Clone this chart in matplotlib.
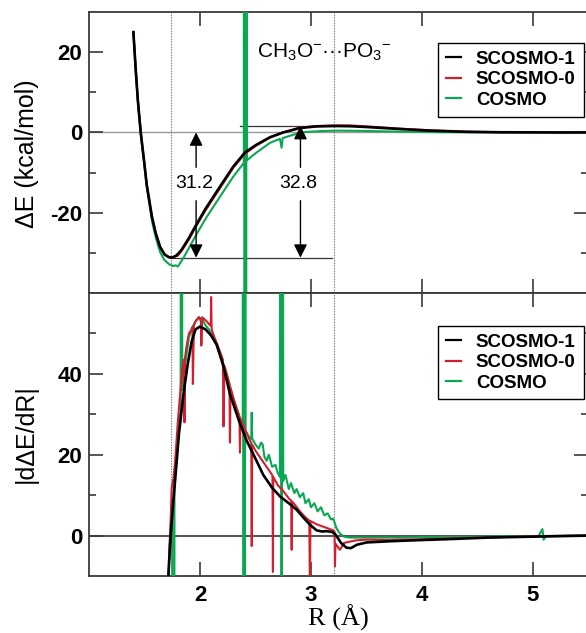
import matplotlib
matplotlib.use('Agg')
import matplotlib.pyplot as plt
from matplotlib.ticker import FixedLocator

# ---------------- data ----------------
series_labels = ['SCOSMO-1', 'SCOSMO-0', 'COSMO']

# Top panel: Delta E (kcal/mol) vs R (A)
energy_scosmo1 = [(1.40, 25), (1.42, 16), (1.44, 8), (1.466, 0), (1.50, -8), (1.52, -13),
                  (1.567, -21), (1.60, -25), (1.64, -28.5), (1.68, -30.4), (1.72, -31.1),
                  (1.75, -31.2), (1.79, -30.6), (1.835, -29.2), (1.90, -26.3), (1.97, -22.8),
                  (2.05, -19), (2.18, -13.5), (2.30, -8.5), (2.405, -5.0), (2.50, -3.2),
                  (2.63, -1.2), (2.75, 0.0), (2.90, 1.1), (3.05, 1.5), (3.20, 1.6), (3.35, 1.55),
                  (3.50, 1.35), (3.62, 1.15), (3.80, 0.85), (4.07, 0.45), (4.40, 0.15),
                  (4.70, 0.05), (5.20, 0), (5.50, 0)]
energy_scosmo0 = [(1.40, 25), (1.42, 16), (1.44, 8), (1.466, 0), (1.50, -8), (1.52, -13),
                  (1.567, -21), (1.60, -25), (1.64, -28.4), (1.68, -30.3), (1.72, -31.0),
                  (1.76, -31.1), (1.80, -30.7), (1.835, -29.5), (1.90, -26.7), (1.97, -23.2),
                  (2.05, -19.4), (2.18, -13.9), (2.30, -8.8), (2.405, -5.3), (2.50, -3.4),
                  (2.63, -1.3), (2.75, 0.0), (2.90, 1.2), (3.05, 1.6), (3.20, 1.75), (3.35, 1.75),
                  (3.50, 1.5), (3.62, 1.3), (3.80, 0.95), (4.07, 0.55), (4.40, 0.2),
                  (4.70, 0.05), (5.20, 0), (5.50, 0)]
energy_cosmo = [(1.40, 25), (1.42, 16), (1.44, 8), (1.466, -0.3), (1.50, -8.5), (1.52, -13.5),
                (1.567, -22), (1.60, -26), (1.64, -29.8), (1.68, -31.8), (1.72, -32.8),
                (1.76, -33.3), (1.78, -33.1), (1.80, -33.4), (1.82, -32.6), (1.86, -30.8),
                (1.90, -28.8), (1.97, -25.3), (2.05, -21.5), (2.18, -16), (2.30, -11),
                (2.395, -7.6), (2.398, 400), (2.400, -400), (2.416, -400), (2.418, 400),
                (2.42, -7.0), (2.50, -5.2), (2.63, -2.6), (2.72, -1.6), (2.735, -3.8),
                (2.745, -1.4), (2.85, -0.5), (2.95, 0.1), (3.10, 0.35), (3.25, 0.45),
                (3.40, 0.4), (3.60, 0.3), (3.80, 0.2), (4.10, 0.08), (4.50, 0.02), (5.50, 0)]

# Bottom panel: |d Delta E / dR| vs R (A)
deriv_scosmo1 = [(1.700, -16), (1.715, -10), (1.736, 0), (1.755, 7), (1.775, 13.4), (1.81, 25),
                 (1.85, 34.8), (1.89, 42.5), (1.925, 48), (1.96, 51), (2.00, 51.7), (2.05, 51),
                 (2.10, 49.5), (2.15, 47.2), (2.21, 42), (2.27, 35), (2.35, 28.5), (2.42, 23.5),
                 (2.50, 19), (2.57, 15), (2.65, 11.8), (2.72, 9.7), (2.80, 8), (2.87, 6.4),
                 (2.93, 4.5), (2.99, 2.7), (3.05, 1.3), (3.10, 1.0), (3.14, 1.1), (3.19, 0.9),
                 (3.22, 0.3), (3.27, -1.8), (3.32, -3.0), (3.36, -3.1), (3.41, -2.3),
                 (3.50, -1.7), (3.71, -1.4), (4.00, -1.1), (4.22, -0.9), (4.60, -0.5),
                 (5.12, -0.2), (5.50, 0)]
deriv_scosmo0 = [(1.712, -12), (1.725, -3), (1.735, 3), (1.745, 11.8), (1.76, 14), (1.775, 18),
                 (1.79, 24), (1.80, 28), (1.815, 33), (1.83, 38), (1.845, 42), (1.855, 43.5),
                 (1.86, 28), (1.865, 44), (1.88, 47), (1.90, 50), (1.925, 51), (1.932, 51.5),
                 (1.936, 37.5), (1.945, 52), (1.96, 53), (1.975, 53.5), (1.99, 54), (2.00, 53.5),
                 (2.008, 53), (2.012, 47), (2.02, 54), (2.04, 53.5), (2.06, 53), (2.09, 52),
                 (2.097, 52), (2.10, 59), (2.105, 51), (2.13, 49), (2.16, 47), (2.18, 45.5),
                 (2.20, 44), (2.206, 43.5), (2.212, 27), (2.22, 42), (2.25, 39), (2.265, 37.5),
                 (2.27, 23), (2.275, 36.5), (2.30, 34), (2.33, 31.5), (2.355, 29.5), (2.36, 20.5),
                 (2.365, 29), (2.40, 26.5), (2.45, 23.5), (2.462, 23), (2.466, -2.6), (2.47, 22.5),
                 (2.50, 21), (2.55, 19), (2.60, 17), (2.65, 15), (2.653, 14.8), (2.657, -9),
                 (2.66, 14.5), (2.70, 12.5), (2.75, 11), (2.80, 9.2), (2.822, 8.6), (2.826, -3.5),
                 (2.83, 8.4), (2.85, 7.8), (2.90, 6), (2.95, 4.5), (2.985, 3.7), (2.99, -14),
                 (2.995, 3.6), (3.05, 2.8), (3.10, 2.3), (3.15, 1.8), (3.20, 1.3), (3.212, 1.0),
                 (3.216, -7.6), (3.22, -2), (3.26, -3.5), (3.30, -1.8), (3.35, -1.5), (3.40, -1.2),
                 (3.50, -1.0), (3.70, -1.1), (4.00, -0.9), (4.50, -0.5), (5.00, -0.2), (5.50, 0)]
deriv_cosmo = [(1.72, -6), (1.735, 2), (1.75, 9), (1.757, -400), (1.761, -400), (1.77, 14),
               (1.79, 21), (1.81, 27), (1.826, 31), (1.829, 400), (1.834, 400), (1.84, 36),
               (1.86, 41), (1.88, 45), (1.90, 49), (1.93, 51.5), (1.96, 53), (1.99, 54),
               (2.02, 53.5), (2.05, 52), (2.08, 51), (2.12, 49), (2.16, 46.5), (2.20, 43.5),
               (2.25, 39), (2.30, 34), (2.33, 31.5), (2.37, 28), (2.385, 27.5), (2.388, 400),
               (2.390, -400), (2.405, -400), (2.407, 400), (2.41, 26), (2.44, 24.5), (2.462, 24),
               (2.466, 30.4), (2.47, 24), (2.50, 22.5), (2.53, 21.5), (2.55, 23), (2.565, 22.5),
               (2.58, 19.5), (2.60, 18.5), (2.62, 20), (2.65, 17), (2.68, 17.5), (2.70, 15.5),
               (2.72, 14.5), (2.732, 400), (2.735, -400), (2.738, 400), (2.75, 13.5), (2.77, 15),
               (2.80, 11.5), (2.82, 13), (2.85, 10.5), (2.87, 11.5), (2.90, 9.5), (2.93, 10.5),
               (2.95, 8), (2.98, 9), (3.00, 7), (3.03, 8), (3.06, 6), (3.09, 7), (3.12, 5),
               (3.15, 5.5), (3.18, 4), (3.20, 4.2), (3.23, 1.8), (3.26, 0.5), (3.30, -0.3),
               (3.35, -0.5), (3.45, -0.5), (3.60, -0.5), (3.80, -0.5), (4.00, -0.4), (4.50, -0.3),
               (5.05, -0.1), (5.085, 1.6), (5.095, -1.0), (5.12, -0.1), (5.50, 0)]

# reference geometry values (data units)
r_reference = [1.74, 3.21]          # dotted vertical lines
well_depth = -31.2                  # energy minimum
barrier_top = 1.6                   # barrier maximum
arrow_r = [1.965, 2.905]
arrow_labels = ['31.2', '32.8']
top_ticks_major = [-20, 0, 20]
top_ticks_minor = [-30, -10, 10]
bot_ticks_major = [0, 20, 40]
bot_ticks_minor = [10, 30, 50]
x_ticks = [2, 3, 4, 5]

# ---------------- style ----------------
plt.rcParams['font.family'] = ['Liberation Sans', 'DejaVu Sans']
plt.rcParams['axes.unicode_minus'] = False
plt.rcParams['mathtext.fontset'] = 'custom'
plt.rcParams['mathtext.rm'] = 'Liberation Sans'
plt.rcParams['mathtext.it'] = 'Liberation Sans:italic'

colors = ['#000000', '#d01f2e', '#0aa652']
lws = [1.9, 1.5, 1.5]
W, H = 586, 633
fig = plt.figure(figsize=(W / 100, H / 100), dpi=100)

left = 89 / W
width = 499.5 / W
ax1 = fig.add_axes([left, 1 - 293 / H, width, 281 / H])
ax2 = fig.add_axes([left, 1 - 576 / H, width, 283 / H])

spine_col = '#3a3a3a'
for ax in (ax1, ax2):
    ax.set_xlim(1.0, 5.5)
    for s in ax.spines.values():
        s.set_color(spine_col)
        s.set_linewidth(1.3)
    ax.tick_params(which='both', direction='in', top=True, right=True, color=spine_col)
    ax.tick_params(which='major', length=10, width=1.2, labelsize=16, pad=5)
    ax.tick_params(which='minor', length=5, width=1.2)
    ax.xaxis.set_major_locator(FixedLocator(x_ticks))

ax1.set_ylim(-40, 30)
ax2.set_ylim(-10, 60)
ax1.yaxis.set_major_locator(FixedLocator(top_ticks_major))
ax1.yaxis.set_minor_locator(FixedLocator(top_ticks_minor))
ax2.yaxis.set_major_locator(FixedLocator(bot_ticks_major))
ax2.yaxis.set_minor_locator(FixedLocator(bot_ticks_minor))
ax1.tick_params(axis='x', labelbottom=False)
ax2.tick_params(axis='x', pad=6.5)
for ax in (ax1, ax2):
    for lbl in ax.get_xticklabels() + ax.get_yticklabels():
        lbl.set_fontweight('bold')

# zero lines and reference lines
ax1.axhline(0, color='#999999', lw=1.0, zorder=1)
ax2.axhline(0, color='#555555', lw=1.5, zorder=1)
for ax in (ax1, ax2):
    for r in r_reference:
        ax.axvline(r, color='#777777', lw=0.8, ls=(0, (1.2, 1.2)), zorder=1)

# curves (draw COSMO first, SCOSMO-1 on top)
top_series = [energy_scosmo1, energy_scosmo0, energy_cosmo]
bot_series = [deriv_scosmo1, deriv_scosmo0, deriv_cosmo]
for i in (2, 1, 0):
    xs, ys = zip(*top_series[i])
    ax1.plot(xs, ys, color=colors[i], lw=lws[i], label=series_labels[i], zorder=3 + (2 - i))
    xs, ys = zip(*bot_series[i])
    ax2.plot(xs, ys, color=colors[i], lw=lws[i], label=series_labels[i], zorder=3 + (2 - i))

# annotation lines and arrows
ax1.plot([1.73, 3.19], [well_depth, well_depth], color='#333333', lw=0.9, zorder=2)
ax1.plot([2.36, 3.20], [barrier_top, barrier_top], color='#333333', lw=0.9, zorder=2)
arrow_tops = [0, barrier_top]
ap = dict(arrowstyle='-|>', color='black', lw=1.0, mutation_scale=20, shrinkA=0, shrinkB=0)
for r, top, lab in zip(arrow_r, arrow_tops, arrow_labels):
    ax1.annotate('', xy=(r, top), xytext=(r, -8.7), arrowprops=ap, zorder=6)
    ax1.annotate('', xy=(r, well_depth), xytext=(r, -17.0), arrowprops=ap, zorder=6)
    ax1.text(r - 0.02, -12.6, lab, ha='center', va='center', fontsize=14, zorder=6)

ax1.text(2.51, 18.5, r'CH$_3$O$^{-}$···PO$_3$$^{-}$', ha='left', va='baseline', fontsize=15)

# legends
for ax, top_px in ((ax1, 43), (ax2, 326)):
    handles, labels = ax.get_legend_handles_labels()
    order = [labels.index(s) for s in series_labels]
    leg = ax.legend([handles[k] for k in order], [labels[k] for k in order],
                    loc='upper left', bbox_to_anchor=(438 / W, 1 - top_px / H),
                    bbox_transform=fig.transFigure, borderaxespad=0,
                    prop={'weight': 'bold', 'size': 13.5}, handlelength=0.8,
                    handletextpad=0.8, labelspacing=0.17, borderpad=0.42,
                    fancybox=False, framealpha=1, edgecolor='black')
    leg.get_frame().set_linewidth(1.0)
    for h in leg.get_lines():
        h.set_linewidth(1.6)

# axis labels
fig.text(27.5 / W, 1 - 154 / H, 'ΔE (kcal/mol)', rotation=90, ha='center', va='center', fontsize=18)
fig.text(25.5 / W, 1 - 434 / H, '|dΔE/dR|', rotation=90, ha='center', va='center', fontsize=18)
fig.text(338.5 / W, 1 - 626 / H, 'R (Å)', ha='center', va='baseline', fontsize=19,
         family='Liberation Serif')

fig.savefig('out.png', dpi=100)
